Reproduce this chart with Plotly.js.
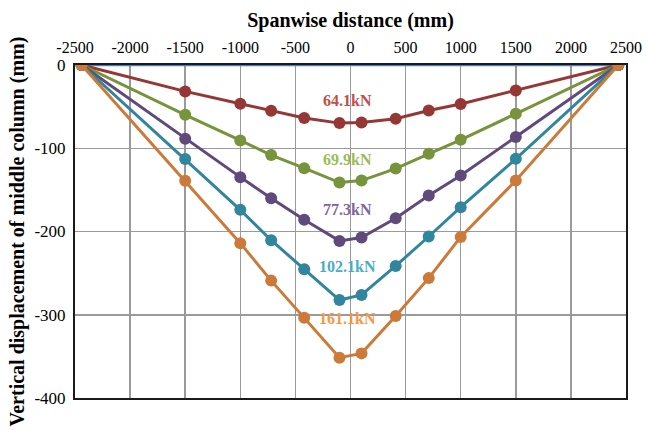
<!DOCTYPE html>
<html>
<head>
<meta charset="utf-8">
<script src="https://cdn.plot.ly/plotly-3.0.1.min.js"></script>
<style>html,body{margin:0;padding:0;background:#fff;}#chart{width:649px;height:430px;}</style>
</head>
<body>
<div id="chart"></div>
<script>
// Spanwise positions of measurement points (mm)
var positions = [-2440, -1500, -1000, -720, -420, -100, 100, 410, 710, 1000, 1500, 2430];

// Vertical displacement of middle column (mm) for each load level
var load0    = [0, 0, 0, 0, 0, 0, 0, 0, 0, 0, 0, 0];
var load64   = [0, -31.7, -46.5, -55, -63.7, -69.8, -69, -64.6, -54.6, -46.9, -30.5, 0];
var load69   = [0, -59.8, -90.6, -108.2, -123.9, -141.2, -138.8, -124.4, -106.7, -89.8, -58.6, 0];
var load77   = [0, -88.6, -134.7, -160, -186, -211.3, -207.3, -184, -156.8, -132.8, -86.6, 0];
var load102  = [0, -113, -174, -210.5, -245.3, -282.3, -276.2, -241.4, -206, -170.8, -112.7, 0];
var load161  = [0, -139.1, -214, -259, -303.5, -351.6, -346.4, -301.5, -256, -206.5, -138.8, 0];

var seriesNames = ["0kN", "64.1kN", "69.9kN", "77.3kN", "102.1kN", "161.1kN"];
var tickVals = [-2500, -2000, -1500, -1000, -500, 0, 500, 1000, 1500, 2000, 2500];
var tickText = ["-2500", "-2000", "-1500", "-1000", "-500", "0", "500", "1000", "1500", "2000", "2500"];
var yTickVals = [0, -100, -200, -300, -400];
var yTickText = ["0", "-100", "-200", "-300", "-400"];

var lineColors = ["#4a7ebb", "#953735", "#77933c", "#604a7b", "#31859c", "#cc7a3a"];
var labelColors = ["#4a7ebb", "#c0504d", "#9bbb59", "#8064a2", "#4bacc6", "#f79646"];
var allData = [load0, load64, load69, load77, load102, load161];

var FONT = "Liberation Serif";

var traces = allData.map(function (vals, i) {
  return {
    x: positions,
    y: vals,
    name: seriesNames[i],
    type: "scatter",
    mode: i === 0 ? "lines" : "lines+markers",
    line: {color: lineColors[i], width: i === 0 ? 2.5 : 3},
    marker: {color: lineColors[i], size: 12},
    showlegend: false,
    hoverinfo: "x+y+name"
  };
});

var labelY = [null, -43, -114, -173, -242.5, -305];
var annotations = [];
for (var i = 1; i < seriesNames.length; i++) {
  annotations.push({
    x: -25, y: labelY[i], xref: "x", yref: "y",
    text: "<b>" + seriesNames[i] + "</b>", showarrow: false,
    font: {family: FONT, size: 16, color: labelColors[i]}
  });
}

var layout = {
  width: 649, height: 430,
  margin: {l: 75, r: 23, t: 65, b: 32},
  paper_bgcolor: "#fff", plot_bgcolor: "#fff",
  font: {family: FONT, size: 16, color: "#000"},
  xaxis: {
    side: "top",
    range: [-2500, 2500],
    tickvals: tickVals, ticktext: tickText,
    tickfont: {family: FONT, size: 16, color: "#000"},
    ticklabelstandoff: 4,
    showgrid: true, gridcolor: "#9a9a9e", gridwidth: 1.5,
    zeroline: false,
    showline: true, linecolor: "#1a1a1a", linewidth: 2, mirror: true,
    layer: "below traces",
    title: {text: "<b>Spanwise distance (mm)</b>", font: {family: FONT, size: 20, color: "#000"}, standoff: 6}
  },
  yaxis: {
    range: [-400, 0],
    tickvals: yTickVals, ticktext: yTickText,
    tickfont: {family: FONT, size: 17, color: "#000"},
    ticklabelstandoff: 4,
    showgrid: true, gridcolor: "#9a9a9e", gridwidth: 1.5,
    zeroline: false,
    showline: true, linecolor: "#1a1a1a", linewidth: 2, mirror: true,
    layer: "below traces",
    title: {text: "<b>Vertical displacement of middle column (mm)</b>", font: {family: FONT, size: 20, color: "#000"}, standoff: 4}
  },
  annotations: annotations
};

Plotly.newPlot("chart", traces, layout, {displayModeBar: false, staticPlot: true});
</script>
</body>
</html>
